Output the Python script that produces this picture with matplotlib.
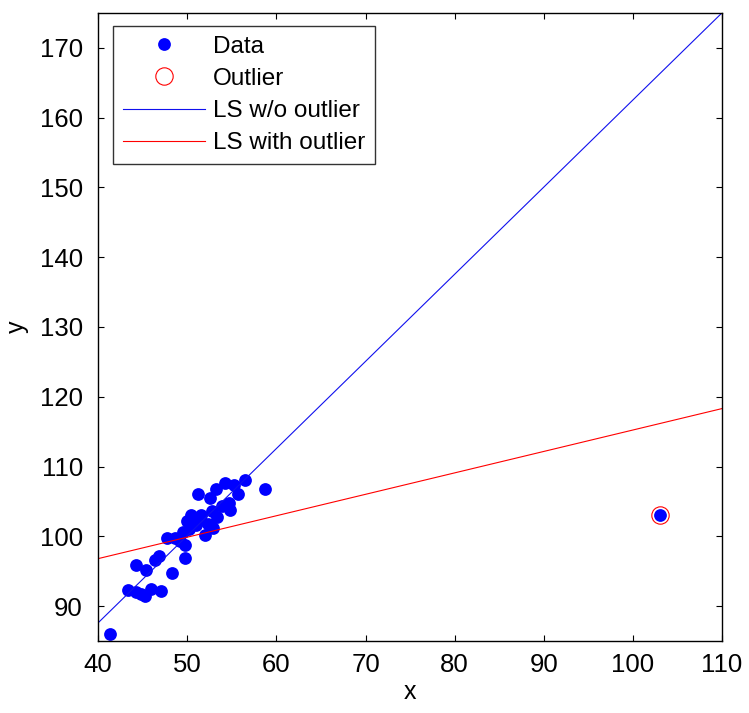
import matplotlib.pyplot as plt
import numpy as np

# dados
x = [41.3, 43.4, 44.3, 44.8, 45.3, 45.9, 47.1, 44.2, 45.4, 46.4,
     46.8, 48.3, 47.7, 48.6, 49.2, 49.8, 49.8, 49.5, 50.0, 50.4,
     50.8, 51.0, 51.5, 51.2, 52.0, 52.3, 52.9, 52.8, 52.6, 53.2,
     53.9, 54.2, 54.7, 54.8, 55.3, 55.7, 56.5, 58.7, 50.2, 51.4,
     53.3]
y = [86.0, 92.3, 92.0, 91.7, 91.4, 92.4, 92.2, 95.9, 95.2, 96.6,
     97.2, 94.8, 99.7, 99.8, 99.3, 98.7, 96.9, 100.6, 102.2, 103.0,
     102.6, 101.6, 103.0, 106.0, 100.2, 101.7, 101.2, 103.6, 105.5, 106.8,
     104.3, 107.7, 104.8, 103.8, 107.4, 106.1, 108.0, 106.8, 101.0, 102.4,
     102.7]

outlier_x = [103.0]
outlier_y = [103.0]

# retas de minimos quadrados (extremos)
reta_x = [40, 110]
reta_sem = [87.6, 175.0]
reta_com = [96.8, 118.3]

plt.rcParams['font.family'] = ['Liberation Sans', 'DejaVu Sans']

fig = plt.figure(figsize=(7.49, 7.13), dpi=100)
ax = fig.add_axes([0.131, 0.101, 0.833, 0.881])

ax.plot(x + outlier_x, y + outlier_y, 'o', color='#0000ff', markersize=9.2,
        markeredgewidth=0, label='Data')
ax.plot(outlier_x, outlier_y, 'o', markerfacecolor='none', markeredgecolor='#ff0000',
        markersize=12.5, markeredgewidth=0.8, label='Outlier')
ax.plot(reta_x, reta_sem, '-', color='#1010ee', linewidth=0.8, label='LS w/o outlier')
ax.plot(reta_x, reta_com, '-', color='#ff0000', linewidth=0.8, label='LS with outlier')

ax.set_xlim(40, 110)
ax.set_ylim(85, 175)
ax.set_xticks(np.arange(40, 111, 10))
ax.set_yticks(np.arange(90, 171, 10))
ax.tick_params(direction='in', top=True, right=True, labelsize=18.5, length=4.5)
ax.tick_params(axis='y', pad=11)
ax.tick_params(axis='x', pad=9)
for s in ax.spines.values():
    s.set_linewidth(1.0)
ax.set_xlabel('x', fontsize=18, labelpad=2)
ax.set_ylabel('y', fontsize=18, labelpad=8)

leg = ax.legend(loc='upper left', fontsize=17.5, frameon=True, fancybox=False,
                edgecolor='black', borderpad=0.4, handlelength=3.4,
                handletextpad=0.3, labelspacing=0.42,
                bbox_to_anchor=(0.024, 0.979), borderaxespad=0)
leg.get_frame().set_linewidth(1.0)

fig.savefig('out.png', dpi=100)
